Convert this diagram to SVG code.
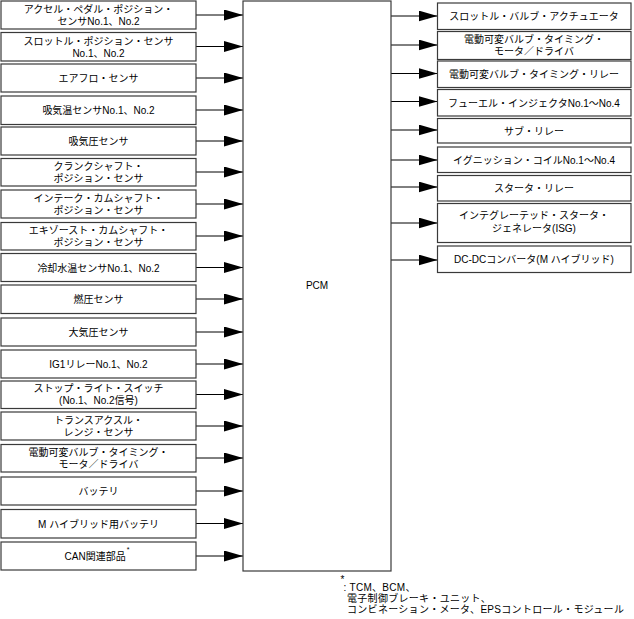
<svg xmlns="http://www.w3.org/2000/svg" width="634" height="619" viewBox="0 0 634 619">
<style>
.box{fill:#fff;stroke:#3a3a3a;stroke-width:1.2}
.t{font-family:"Liberation Sans","Noto Sans CJK JP",sans-serif;font-size:10px;fill:#000;text-anchor:middle}
.fn{font-family:"Liberation Sans","Noto Sans CJK JP",sans-serif;font-size:10px;fill:#000;letter-spacing:0.3px}
.ln{stroke:#000;stroke-width:1;fill:none;marker-end:url(#ah)}
</style>
<defs>
<marker id="ah" markerUnits="userSpaceOnUse" markerWidth="19" markerHeight="11" refX="19" refY="5.5" orient="auto">
<path d="M0,0 L19,5.5 L0,11 z" fill="#000"/>
</marker>
</defs>
<rect width="634" height="619" fill="#fff"/>
<g id="connectors">
<line class="ln" x1="196" y1="15" x2="243" y2="15"/>
<line class="ln" x1="196" y1="46.5" x2="243" y2="46.5"/>
<line class="ln" x1="196" y1="78" x2="243" y2="78"/>
<line class="ln" x1="196" y1="110" x2="243" y2="110"/>
<line class="ln" x1="196" y1="141" x2="243" y2="141"/>
<line class="ln" x1="196" y1="172" x2="243" y2="172"/>
<line class="ln" x1="196" y1="204" x2="243" y2="204"/>
<line class="ln" x1="196" y1="236" x2="243" y2="236"/>
<line class="ln" x1="196" y1="267.5" x2="243" y2="267.5"/>
<line class="ln" x1="196" y1="299" x2="243" y2="299"/>
<line class="ln" x1="196" y1="332" x2="243" y2="332"/>
<line class="ln" x1="196" y1="364" x2="243" y2="364"/>
<line class="ln" x1="196" y1="394.5" x2="243" y2="394.5"/>
<line class="ln" x1="196" y1="426" x2="243" y2="426"/>
<line class="ln" x1="196" y1="458" x2="243" y2="458"/>
<line class="ln" x1="196" y1="491" x2="243" y2="491"/>
<line class="ln" x1="196" y1="523.5" x2="243" y2="523.5"/>
<line class="ln" x1="196" y1="556" x2="243" y2="556"/>
<line class="ln" x1="391" y1="16" x2="437.5" y2="16"/>
<line class="ln" x1="391" y1="45" x2="437.5" y2="45"/>
<line class="ln" x1="391" y1="73.5" x2="437.5" y2="73.5"/>
<line class="ln" x1="391" y1="101.5" x2="437.5" y2="101.5"/>
<line class="ln" x1="391" y1="130" x2="437.5" y2="130"/>
<line class="ln" x1="391" y1="160" x2="437.5" y2="160"/>
<line class="ln" x1="391" y1="187" x2="437.5" y2="187"/>
<line class="ln" x1="391" y1="223" x2="437.5" y2="223"/>
<line class="ln" x1="391" y1="260" x2="437.5" y2="260"/>
</g>
<g id="pcm">
<rect class="box" x="243" y="1" width="148" height="570"/>
<text class="t" x="317" y="289">PCM</text>
</g>
<g id="in1"><rect class="box" x="1" y="1" width="195" height="28"/><text class="t" x="98.5" y="12.5">アクセル・ペダル・ポジション・</text><text class="t" x="98.5" y="24.5">センサNo.1、No.2</text></g>
<g id="in2"><rect class="box" x="1" y="32.5" width="195" height="28.5"/><text class="t" x="98.5" y="44.5">スロットル・ポジション・センサ</text><text class="t" x="98.5" y="56.5">No.1、No.2</text></g>
<g id="in3"><rect class="box" x="1" y="64" width="195" height="28"/><text class="t" x="98.5" y="82">エアフロ・センサ</text></g>
<g id="in4"><rect class="box" x="1" y="96" width="195" height="28.5"/><text class="t" x="98.5" y="114">吸気温センサNo.1、No.2</text></g>
<g id="in5"><rect class="box" x="1" y="127" width="195" height="28"/><text class="t" x="98.5" y="145">吸気圧センサ</text></g>
<g id="in6"><rect class="box" x="1" y="158.5" width="195" height="27.5"/><text class="t" x="98.5" y="169.5">クランクシャフト・</text><text class="t" x="98.5" y="181.5">ポジション・センサ</text></g>
<g id="in7"><rect class="box" x="1" y="190" width="195" height="28"/><text class="t" x="98.5" y="201.5">インテーク・カムシャフト・</text><text class="t" x="98.5" y="213.5">ポジション・センサ</text></g>
<g id="in8"><rect class="box" x="1" y="222.5" width="195" height="27.5"/><text class="t" x="98.5" y="233.5">エキゾースト・カムシャフト・</text><text class="t" x="98.5" y="245.5">ポジション・センサ</text></g>
<g id="in9"><rect class="box" x="1" y="253.5" width="195" height="28"/><text class="t" x="98.5" y="271.5">冷却水温センサNo.1、No.2</text></g>
<g id="in10"><rect class="box" x="1" y="285" width="195" height="28.5"/><text class="t" x="98.5" y="303">燃圧センサ</text></g>
<g id="in11"><rect class="box" x="1" y="318" width="195" height="28"/><text class="t" x="98.5" y="336">大気圧センサ</text></g>
<g id="in12"><rect class="box" x="1" y="350" width="195" height="28"/><text class="t" x="98.5" y="368">IG1リレーNo.1、No.2</text></g>
<g id="in13"><rect class="box" x="1" y="381" width="195" height="27.5"/><text class="t" x="98.5" y="392">ストップ・ライト・スイッチ</text><text class="t" x="98.5" y="404">(No.1、No.2信号)</text></g>
<g id="in14"><rect class="box" x="1" y="412" width="195" height="28"/><text class="t" x="98.5" y="423.5">トランスアクスル・</text><text class="t" x="98.5" y="435.5">レンジ・センサ</text></g>
<g id="in15"><rect class="box" x="1" y="444.5" width="195" height="27.5"/><text class="t" x="98.5" y="455.5">電動可変バルブ・タイミング・</text><text class="t" x="98.5" y="467.5">モータ／ドライバ</text></g>
<g id="in16"><rect class="box" x="1" y="477" width="195" height="28"/><text class="t" x="98.5" y="495">バッテリ</text></g>
<g id="in17"><rect class="box" x="1" y="509.5" width="195" height="28.5"/><text class="t" x="98.5" y="527.5">M ハイブリッド用バッテリ</text></g>
<g id="in18"><rect class="box" x="1" y="542" width="195" height="28"/><text class="t" x="97" y="560">CAN関連部品<tspan font-size="7" dx="1" dy="-8">*</tspan></text></g>
<g id="out1"><rect class="box" x="437.5" y="3" width="193.5" height="26.5"/><text class="t" x="534" y="20">スロットル・バルブ・アクチュエータ</text></g>
<g id="out2"><rect class="box" x="437.5" y="31.5" width="193.5" height="28"/><text class="t" x="534" y="43">電動可変バルブ・タイミング・</text><text class="t" x="534" y="55">モータ／ドライバ</text></g>
<g id="out3"><rect class="box" x="437.5" y="61" width="193.5" height="26.5"/><text class="t" x="534" y="78">電動可変バルブ・タイミング・リレー</text></g>
<g id="out4"><rect class="box" x="437.5" y="89.5" width="193.5" height="26.5"/><text class="t" x="534" y="106.5">フューエル・インジェクタNo.1～No.4</text></g>
<g id="out5"><rect class="box" x="437.5" y="118.5" width="193.5" height="24.5"/><text class="t" x="534" y="134.5">サブ・リレー</text></g>
<g id="out6"><rect class="box" x="437.5" y="147" width="193.5" height="25.5"/><text class="t" x="534" y="163.5">イグニッション・コイルNo.1～No.4</text></g>
<g id="out7"><rect class="box" x="437.5" y="175.5" width="193.5" height="25.5"/><text class="t" x="534" y="192">スタータ・リレー</text></g>
<g id="out8"><rect class="box" x="437.5" y="203.5" width="193.5" height="39"/><text class="t" x="534" y="219">インテグレーテッド・スタータ・</text><text class="t" x="534" y="232">ジェネレータ(ISG)</text></g>
<g id="out9"><rect class="box" x="437.5" y="246" width="193.5" height="26.5"/><text class="t" x="534" y="263">DC-DCコンバータ(M ハイブリッド)</text></g>
<g id="footnote">
<text class="fn" x="340.5" y="583" font-size="7">*</text>
<text class="fn" x="343.5" y="590.5">: TCM、BCM、</text>
<text class="fn" x="347" y="601.5">電子制御ブレーキ・ユニット、</text>
<text class="fn" x="347" y="612.5">コンビネーション・メータ、EPSコントロール・モジュール</text>
</g>
</svg>
